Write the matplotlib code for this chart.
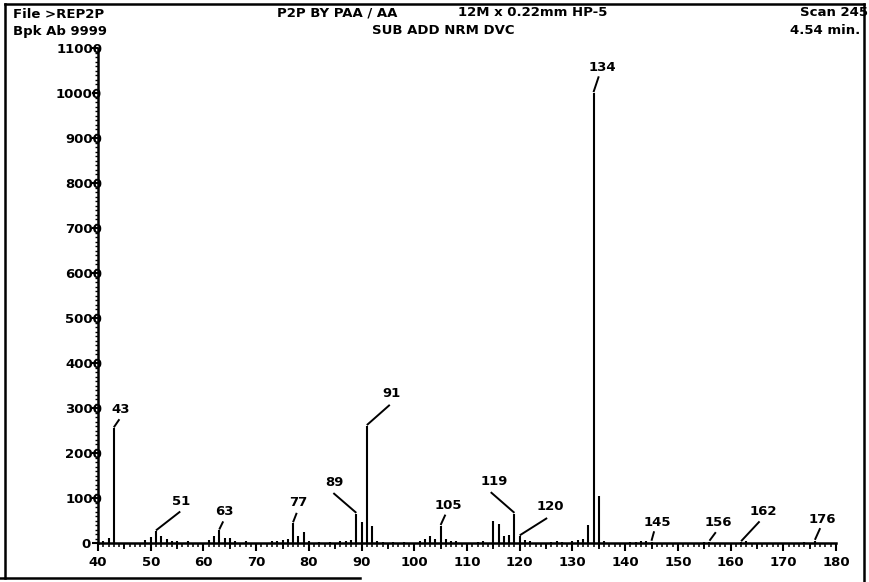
import numpy as np
import matplotlib
matplotlib.use("Agg")
import matplotlib.pyplot as plt
import matplotlib.ticker as ticker
import matplotlib.transforms as mtransforms
from matplotlib.lines import Line2D

plt.rcParams['font.family'] = ['DejaVu Sans']
plt.rcParams['font.weight'] = 'bold'

# mass spectrum, scan 245 (m/z vs abundance)
mz = [41, 42, 43, 49, 50, 51, 52, 53, 54, 55, 57, 61, 62, 63, 64, 65, 66, 68,
      73, 74, 75, 76, 77, 78, 79, 80, 82, 84, 86, 87, 88, 89, 90, 91, 92, 93,
      94, 96, 98, 101, 102, 103, 104, 105, 106, 107, 108, 112, 113, 115, 116,
      117, 118, 119, 120, 121, 122, 126, 127, 128, 130, 131, 132, 133, 134,
      135, 136, 141, 142, 143, 144, 145, 155, 156, 162, 163, 174, 176]
abund = [40, 110, 2550, 60, 130, 260, 150, 90, 50, 40, 40, 60, 150, 280, 120,
         110, 40, 40, 40, 50, 60, 80, 440, 160, 250, 40, 30, 30, 40, 50, 60,
         650, 460, 2600, 370, 40, 30, 30, 30, 50, 80, 150, 80, 380, 100, 50,
         40, 30, 50, 500, 430, 150, 180, 650, 150, 60, 40, 30, 40, 30, 50, 60,
         80, 400, 10000, 1040, 50, 30, 30, 40, 40, 30, 30, 30, 20, 40, 30, 50]

# labelled peaks
label_mz = [43, 51, 63, 77, 89, 91, 105, 119, 120, 134, 145, 156, 162, 176]

x_ticks = list(range(40, 181, 10))
x_mid_ticks = list(range(45, 180, 10))
y_ticks = list(range(0, 11001, 1000))

# placement of the peak labels: text centre offset and leader end offset
# (m/z units, abundance units) relative to the peak top
text_off = {43: (1.25, 410), 51: (4.75, 665), 63: (1.06, 420), 77: (0.9, 450),
            89: (-4.2, 705), 91: (4.7, 730), 105: (1.5, 450), 119: (-3.8, 720),
            120: (5.85, 650), 134: (1.6, 560), 145: (1.1, 430),
            156: (1.7, 430), 162: (4.2, 680), 176: (1.4, 480)}
lead_off = {43: (1.06, 200), 51: (4.6, 440), 63: (0.75, 200), 77: (0.7, 230),
            89: (-4.35, 460), 91: (4.35, 470), 105: (0.9, 250), 119: (-4.5, 480),
            120: (5.2, 405), 134: (1.0, 370), 145: (0.5, 230),
            156: (1.2, 210), 162: (3.5, 460), 176: (1.0, 280)}

W, H = 870, 582
fig = plt.figure(figsize=(W / 100, H / 100), dpi=100)
ax = fig.add_axes([98 / W, 1 - 543 / H, (836 - 98) / W, (543 - 48) / H])

ax.vlines(mz, 0, abund, color='black', lw=1.5)

peak_h = dict(zip(mz, abund))
for m in label_mz:
    h = peak_h[m]
    tx, ty = text_off[m]
    lx, ly = lead_off[m]
    ax.plot([m, m + lx], [h + 20, h + ly], color='black', lw=1.4,
            solid_capstyle='butt')
    ax.text(m + tx, h + ty, str(m), ha='center', va='center',
            fontsize=9.5, fontweight='bold')

ax.set_xlim(40, 180)
ax.set_ylim(0, 11000)
for s in ['top', 'right']:
    ax.spines[s].set_visible(False)
for s in ['left', 'bottom']:
    ax.spines[s].set_linewidth(1.8)

ax.set_xticks(x_ticks)
ax.set_yticks(y_ticks)
ax.xaxis.set_minor_locator(ticker.MultipleLocator(1))
ax.yaxis.set_minor_locator(ticker.MultipleLocator(100))
ax.tick_params(axis='x', which='major', direction='out', length=6, width=1.5,
               labelsize=9.5, pad=3)
ax.tick_params(axis='x', which='minor', direction='out', length=3, width=1.1)
ax.tick_params(axis='y', which='major', direction='out', length=4, width=1.5,
               labelsize=9.5, pad=-7)
ax.tick_params(axis='y', which='minor', direction='out', length=2.5, width=1.0)
for lab in ax.get_xticklabels() + ax.get_yticklabels():
    lab.set_fontweight('bold')

# the "0" label sits a little left of the axis on the printout
zero_lab = ax.get_yticklabels()[0]
zero_lab.set_transform(zero_lab.get_transform() +
                       mtransforms.ScaledTranslation(-8 / 72, 0, fig.dpi_scale_trans))

# medium ticks at the 5s
sec = ax.secondary_xaxis('bottom')
sec.set_xticks(x_mid_ticks)
sec.tick_params(direction='out', length=4.5, width=1.3, labelbottom=False)
sec.spines['bottom'].set_visible(False)

# header lines
def px(x, y):
    return x / W, 1 - y / H

fs = 9.5
fig.text(*px(13, 15), 'File >REP2P', ha='left', va='center', fontsize=fs)
fig.text(*px(13, 32), 'Bpk Ab 9999', ha='left', va='center', fontsize=fs)
fig.text(*px(277, 13), 'P2P BY PAA / AA', ha='left', va='center', fontsize=fs)
fig.text(*px(458, 13), '12M x 0.22mm HP-5', ha='left', va='center', fontsize=fs)
fig.text(*px(443, 30), 'SUB ADD NRM DVC', ha='center', va='center', fontsize=fs)
fig.text(*px(868, 13), 'Scan 245', ha='right', va='center', fontsize=fs)
fig.text(*px(860, 30), '4.54 min.', ha='right', va='center', fontsize=fs)

# page frame of the printout
frame = [([5, 864], [4, 4]), ([5, 5], [4, 578]), ([864, 864], [4, 582]),
         ([0, 360], [578, 578])]
for xs, ys in frame:
    fig.add_artist(Line2D([x / W for x in xs], [1 - y / H for y in ys],
                          transform=fig.transFigure, color='black', lw=1.8))

fig.savefig('out.png', dpi=100)
